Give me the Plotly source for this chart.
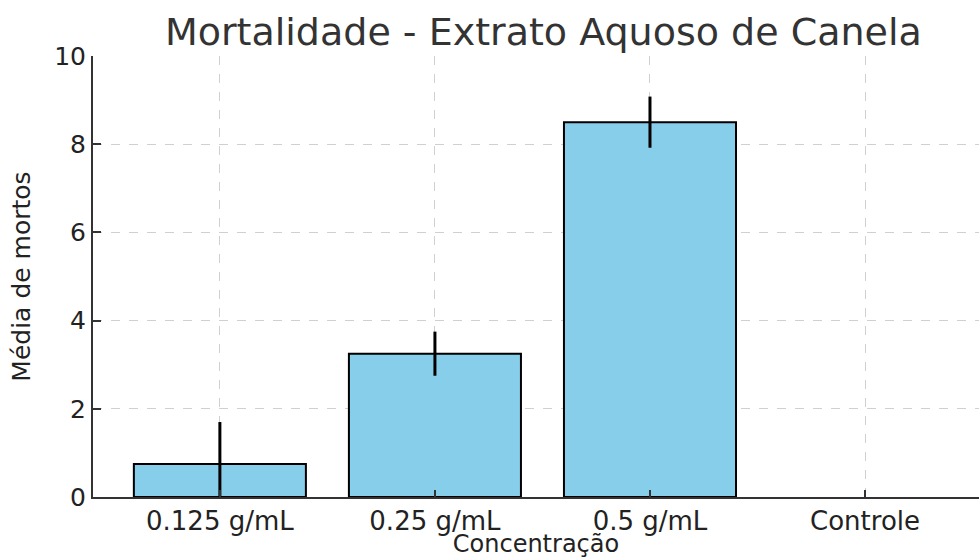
import plotly.graph_objects as go

categories = ["0.125 g/mL", "0.25 g/mL", "0.5 g/mL", "Controle"]
means = [0.75, 3.25, 8.5, 0.0]
errors = [0.95, 0.5, 0.58, 0.0]
y_ticks = [0, 2, 4, 6, 8, 10]

FONT = "DejaVu Sans"
fig = go.Figure()
fig.add_trace(go.Bar(
    x=categories, y=means,
    width=0.8,
    marker=dict(color="#87CEEB", line=dict(color="black", width=[2, 2, 2, 0])),
    error_y=dict(type="data", array=errors, visible=True, color="black", thickness=3, width=0),
))

fig.update_layout(
    width=979, height=558,
    margin=dict(l=93, r=0, t=56, b=61),
    plot_bgcolor="white", paper_bgcolor="white",
    showlegend=False,
    title=dict(text="Mortalidade - Extrato Aquoso de Canela", x=0.555, xanchor="center",
               y=1 - 32 / 558, yanchor="middle", yref="container",
               font=dict(family=FONT, size=38, color="#333333")),
    font=dict(family=FONT, color="#222222"),
)
fig.update_xaxes(
    range=[-0.59, 3.53], automargin=False,
    showline=True, linecolor="#333333", linewidth=2,
    ticks="inside", ticklen=7, tickwidth=1.5, tickcolor="#333333",
    showgrid=True, gridcolor="#d0d0d0", griddash="dash", gridwidth=1,
    tickfont=dict(family=FONT, size=26, color="#222222"),
    title=dict(text="Concentração", font=dict(family=FONT, size=24, color="#222222"), standoff=2),
    layer="above traces",
)
fig.update_yaxes(
    range=[0, 10], tickvals=y_ticks, automargin=False,
    showline=True, linecolor="#333333", linewidth=2,
    ticks="inside", ticklen=8, tickwidth=1.5, tickcolor="#333333",
    showgrid=True, gridcolor="#d0d0d0", griddash="dash", gridwidth=1,
    zeroline=False,
    tickfont=dict(family=FONT, size=25, color="#222222"),
    title=dict(text="Média de mortos", font=dict(family=FONT, size=25, color="#222222"), standoff=16),
    layer="above traces",
)
fig.write_html("out.html", config={"displayModeBar": False},
               post_script="document.body.style.margin='0';document.body.style.overflow='hidden';")
